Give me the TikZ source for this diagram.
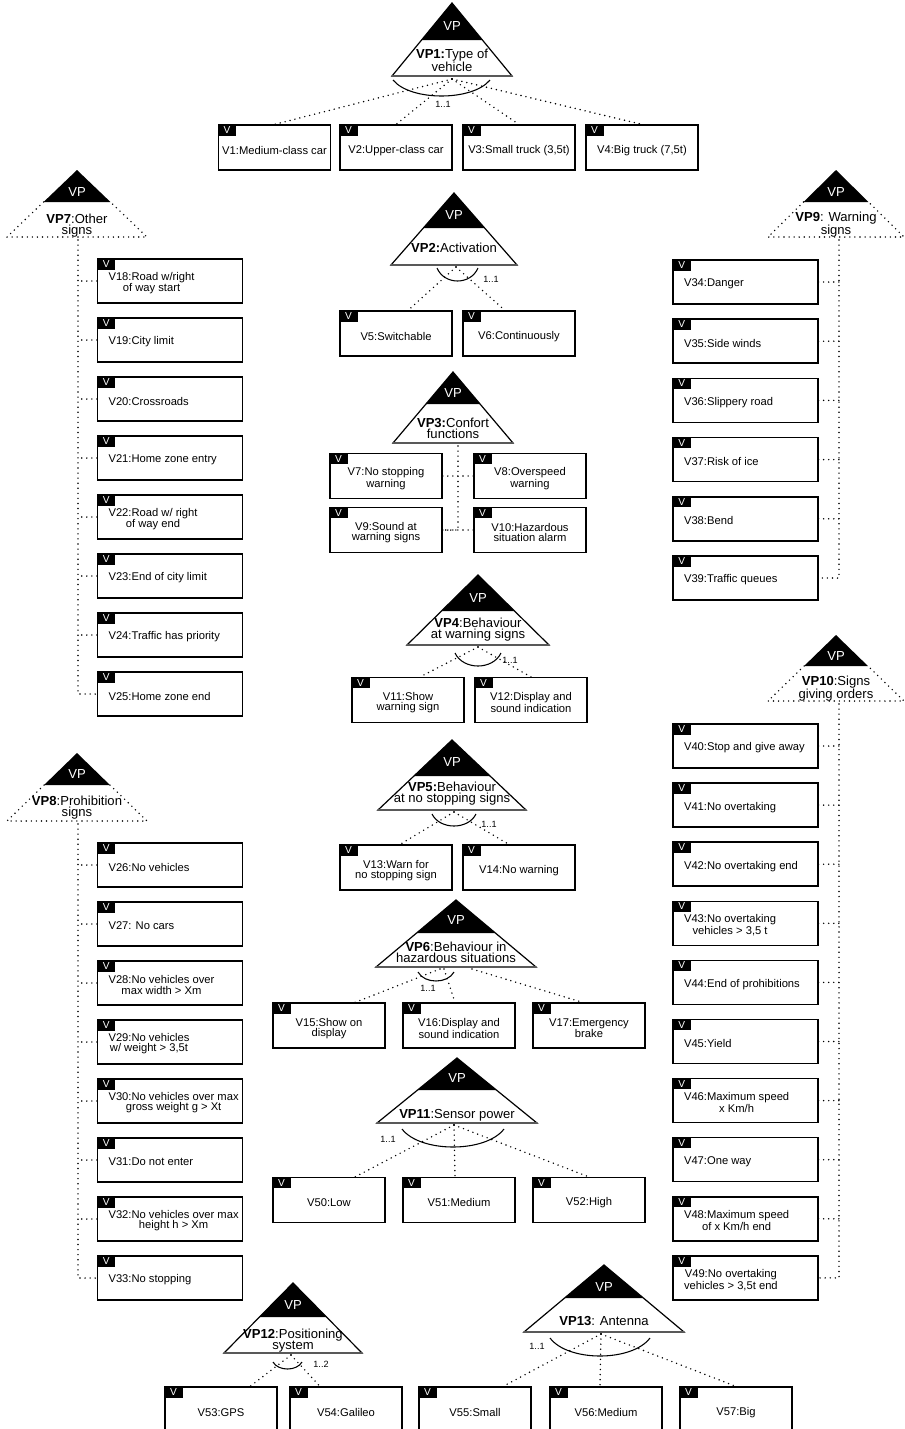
\documentclass[tikz,border=0pt]{standalone}
\usepackage{fontspec}
\setmainfont{Liberation Sans}
\tikzset{
  vbox/.style={draw=black, line width=1.1pt, minimum width=84pt, minimum height=33.5pt, inner sep=0pt},
  sbox/.style={vbox, minimum width=108.5pt, minimum height=33pt},
  vtag/.style={fill=black, text=white, anchor=north west, minimum width=13.5pt, minimum height=8.3pt, inner sep=0pt, font=\fontsize{7.6}{7.6}\selectfont},
  vtxt/.style={align=center, inner sep=0pt, font=\fontsize{8.4}{7.6}\selectfont},
  vplab/.style={align=center, inner sep=0pt, font=\fontsize{9.8}{8.4}\selectfont},
  vphead/.style={text=white, inner sep=0pt, font=\fontsize{9.8}{9.8}\selectfont},
  dots/.style={line width=1.2pt, line cap=round, dash pattern=on 0pt off 3.8pt},
  arcline/.style={line width=0.8pt},
  cardl/.style={inner sep=0pt, font=\fontsize{6.8}{6.8}\selectfont},
}
% centred box: name, cx, cy, text
\newcommand\vbc[4]{%
  \node[vbox] (#1) at (#2,#3) {};
  \node[vtag] (#1g) at (#1.north west) {V};
  \node[vtxt] (#1t) at ([yshift=-2pt]#1.center) {#4};}
% side box: name, cx, cy, text
\newcommand\vbs[4]{%
  \node[sbox] (#1) at (#2,#3) {};
  \node[vtag] (#1g) at (#1.north west) {V};
  \node[vtxt,anchor=west] (#1t) at ([xshift=8.5pt,yshift=-1.5pt]#1.west) {#4};}
% solid VP triangle: name, cx, apex y, base y, half width, black height, head y, label y, label
\newcommand\vptri[9]{%
  \pgfmathsetmacro\vphb{#5*#6/(#4-#3)}%
  \coordinate (#1) at (#2,#3);
  \coordinate (#1L) at (#2-#5,#4);
  \coordinate (#1R) at (#2+#5,#4);
  \fill[black] (#1) -- (#2-\vphb,#3+#6) -- (#2+\vphb,#3+#6) -- cycle;
  \draw[line width=0.9pt, line join=miter] (#1) -- (#1L) -- (#1R) -- cycle;
  \draw[line width=1.5pt, black!65] (#1L) -- (#1R);
  \node[vphead] (#1h) at (#2,#7) {VP};
  \node[vplab] (#1l) at (#2,#8) {#9};}
% dotted VP triangle
\newcommand\vpdot[9]{%
  \pgfmathsetmacro\vphb{#5*#6/(#4-#3)}%
  \coordinate (#1) at (#2,#3);
  \coordinate (#1L) at (#2-#5,#4);
  \coordinate (#1R) at (#2+#5,#4);
  \coordinate (#1a) at (#2-\vphb,#3+#6);
  \coordinate (#1b) at (#2+\vphb,#3+#6);
  \fill[black] (#1) -- (#1a) -- (#1b) -- cycle;
  \draw[dots] (#1a) -- (#1L) -- (#1R) -- (#1b);
  \node[vphead] (#1h) at (#2,#7) {VP};
  \node[vplab] (#1l) at (#2,#8) {#9};}
% cardinality arc: x1, x2, y, lowest y
\newcommand\cardarc[4]{%
  \pgfmathsetmacro\cah{#3+(#4-#3)*4/3}%
  \draw[arcline] (#1,#3) .. controls ({#1+(#2-#1)*0.18},\cah) and ({#2-(#2-#1)*0.18},\cah) .. (#2,#3);}
\begin{document}
\begin{tikzpicture}[x=0.75pt,y=-0.75pt]
\useasboundingbox (0,0) rectangle (904,1429);
\fill[white] (0,0) rectangle (904,1429);

% ---------- VP1 ----------
\vptri{vp1}{452}{3}{76}{60}{37}{26}{60.5}{\textbf{VP1:}Type of\\vehicle}
\cardarc{393}{490}{80}{96}
\node[cardl] (c1) at (443,104) {1..1};
\vbc{v1}{274.5}{147.5}{V1:Medium-class car}
\vbc{v2}{396}{147.5}{V2:Upper-class car}
\vbc{v3}{519}{147.5}{V3:Small truck (3,5t)}
\vbc{v4}{642}{147.5}{V4:Big truck (7,5t)}
\coordinate (vp1s) at (452,79);
\foreach \n in {v1,v2,v3,v4} \draw[dots] (vp1s) -- (\n.north);

% ---------- VP2 ----------
\vptri{vp2}{454}{193}{265}{63}{35}{215}{248}{\textbf{VP2:}Activation}
\cardarc{437}{478}{268}{281}
\node[cardl] (c2) at (491,279) {1..1};
\vbc{v5}{396}{333.5}{V5:Switchable}
\vbc{v6}{519}{333.5}{V6:Continuously}
\coordinate (vp2s) at (456,267);
\draw[dots] (vp2s) -- ([xshift=9pt]v5.north);
\draw[dots] (vp2s) -- ([xshift=-10.5pt]v6.north);

% ---------- VP3 ----------
\vptri{vp3}{453}{372}{443}{60}{32}{393}{428}{\textbf{VP3:}Confort\\functions}
\vbc{v7}{386}{476}{V7:No stopping\\warning}
\vbc{v8}{530}{476}{V8:Overspeed\\warning}
\vbc{v9}{386}{530}{V9:Sound at\\warning signs}
\vbc{v10}{530}{530}{V10:Hazardous\\situation alarm}
\coordinate (vp3s) at (458,446);
\draw[dots] (vp3s) |- (v9.east);
\draw[dots] (v7.east) -- (v8.west);
\draw[dots] (v9.east) -- (v10.west);

% ---------- VP4 ----------
\vptri{vp4}{478}{575}{645}{71}{36}{598}{630}{\textbf{VP4}:Behaviour\\at warning signs}
\cardarc{455}{501}{653}{666}
\node[cardl] (c4) at (510,660) {1..1};
\vbc{v11}{408}{700}{V11:Show\\warning sign}
\vbc{v12}{531}{700}{V12:Display and\\sound indication}
\coordinate (vp4s) at (478,647);
\draw[dots] (vp4s) -- ([xshift=9pt]v11.north);
\draw[dots] (vp4s) -- (v12.north);

% ---------- VP5 ----------
\vptri{vp5}{452}{740}{810}{74}{36}{762}{794}{\textbf{VP5:}Behaviour\\at no stopping signs}
\cardarc{432}{476}{814}{826}
\node[cardl] (c5) at (489,824) {1..1};
\vbc{v13}{396}{867.5}{V13:Warn for\\no stopping sign}
\vbc{v14}{519}{867.5}{V14:No warning}
\coordinate (vp5s) at (454,812);
\draw[dots] (vp5s) -- ([xshift=3pt]v13.north);
\draw[dots] (vp5s) -- ([xshift=-7.5pt]v14.north);

% ---------- VP6 ----------
\vptri{vp6}{456}{900}{967}{80}{33}{920}{952.5}{\textbf{VP6}:Behaviour in\\hazardous situations}
\cardarc{418}{454}{972}{981}
\node[cardl] (c6) at (428,988) {1..1};
\vbc{v15}{329}{1025.5}{V15:Show on\\display}
\vbc{v16}{459}{1025.5}{V16:Display and\\sound indication}
\vbc{v17}{589}{1025.5}{V17:Emergency\\brake}
\coordinate (vp6a) at (440,969);
\coordinate (vp6b) at (444,969);
\coordinate (vp6c) at (472,969);
\draw[dots] (vp6a) -- ([xshift=19.5pt]v15.north);
\draw[dots] (vp6b) -- ([xshift=-3pt]v16.north);
\draw[dots] (vp6c) -- ([xshift=-4.5pt]v17.north);

% ---------- VP11 ----------
\vptri{vp11}{457}{1058}{1123}{80}{32}{1078}{1115}{\textbf{VP11}:Sensor power}
\cardarc{402}{504}{1129}{1147}
\node[cardl] (c11) at (388,1139) {1..1};
\vbc{v50}{329}{1200}{V50:Low}
\vbc{v51}{459}{1200}{V51:Medium}
\vbc{v52}{589}{1200}{V52:High}
\coordinate (vp11s) at (454,1125);
\draw[dots] (vp11s) -- ([xshift=19.5pt]v50.north);
\draw[dots] (vp11s) -- ([xshift=-3pt]v51.north);
\draw[dots] (vp11s) -- (v52.north);

% ---------- VP12 ----------
\vptri{vp12}{293}{1283}{1353}{69}{34}{1305}{1341}{\textbf{VP12}:Positioning\\system}
\cardarc{273}{302}{1362}{1369}
\node[cardl] (c12) at (321,1364) {1..2};
\vbc{v53}{221}{1409.5}{V53:GPS}
\vbc{v54}{346}{1409.5}{V54:Galileo}
\coordinate (vp12s) at (291,1355);
\draw[dots] (vp12s) -- ([xshift=21.75pt]v53.north);
\draw[dots] (vp12s) -- ([xshift=-19.5pt]v54.north);

% ---------- VP13 ----------
\vptri{vp13}{604}{1265}{1332}{80}{33}{1287}{1321}{\textbf{VP13}: Antenna}
\cardarc{550}{650}{1338}{1356}
\node[cardl] (c13) at (537,1346) {1..1};
\vbc{v55}{475}{1409.5}{V55:Small}
\vbc{v56}{606}{1409.5}{V56:Medium}
\vbc{v57}{736}{1409.5}{V57:Big}
\coordinate (vp13s) at (601,1334);
\draw[dots] (vp13s) -- ([xshift=21pt]v55.north);
\draw[dots] (vp13s) -- ([xshift=-4.5pt]v56.north);
\draw[dots] (vp13s) -- (v57.north);

% ---------- VP7 ----------
\vpdot{vp7}{77}{170}{237}{70}{32}{192}{225.5}{\textbf{VP7}:Other\\signs}
\vbs{v18}{170}{281}{V18:Road w/right\\of way start}
\vbs{v19}{170}{340}{V19:City limit}
\vbs{v20}{170}{399}{V20:Crossroads}
\vbs{v21}{170}{458}{V21:Home zone entry}
\vbs{v22}{170}{517}{V22:Road w/ right\\of way end}
\vbs{v23}{170}{576}{V23:End of city limit}
\vbs{v24}{170}{635}{V24:Traffic has priority}
\vbs{v25}{170}{694}{V25:Home zone end}
\coordinate (vp7s) at (78,240);
\draw[dots] (vp7s) |- (v25.west);
\foreach \n in {v18,v19,v20,v21,v22,v23,v24} \draw[dots] (\n.west) -- (\n.west -| vp7s);

% ---------- VP8 ----------
\vpdot{vp8}{77}{753}{821}{70}{32}{774}{807.5}{\textbf{VP8}:Prohibition\\signs}
\vbs{v26}{170}{865}{V26:No vehicles}
\vbs{v27}{170}{924}{V27: No cars}
\vbs{v28}{170}{983}{V28:No vehicles over\\max width > Xm}
\vbs{v29}{170}{1042}{V29:No vehicles\\w/ weight > 3,5t}
\vbs{v30}{170}{1101}{V30:No vehicles over max\\gross weight g > Xt}
\vbs{v31}{170}{1160}{V31:Do not enter}
\vbs{v32}{170}{1219}{V32:No vehicles over max\\height h > Xm}
\vbs{v33}{170}{1278}{V33:No stopping}
\coordinate (vp8s) at (78,824);
\draw[dots] (vp8s) |- (v33.west);
\foreach \n in {v26,v27,v28,v29,v30,v31,v32} \draw[dots] (\n.west) -- (\n.west -| vp8s);

% ---------- VP9 ----------
\vpdot{vp9}{836}{170}{237}{68}{32}{192}{224.5}{\textbf{VP9}: Warning\\signs}
\vbs{v34}{745.5}{282}{V34:Danger}
\vbs{v35}{745.5}{341.2}{V35:Side winds}
\vbs{v36}{745.5}{400.4}{V36:Slippery road}
\vbs{v37}{745.5}{459.6}{V37:Risk of ice}
\vbs{v38}{745.5}{518.8}{V38:Bend}
\vbs{v39}{745.5}{578}{V39:Traffic queues}
\coordinate (vp9s) at (839,240);
\draw[dots] (vp9s) |- (v39.east);
\foreach \n in {v34,v35,v36,v37,v38} \draw[dots] (\n.east) -- (\n.east -| vp9s);

% ---------- VP10 ----------
\vpdot{vp10}{836}{635}{701}{68}{31}{656}{688.5}{\textbf{VP10}:Signs\\giving orders}
\vbs{v40}{745.5}{746}{V40:Stop and give away}
\vbs{v41}{745.5}{805.1}{V41:No overtaking}
\vbs{v42}{745.5}{864.2}{V42:No overtaking end}
\vbs{v43}{745.5}{923.3}{V43:No overtaking\\vehicles > 3,5 t}
\vbs{v44}{745.5}{982.4}{V44:End of prohibitions}
\vbs{v45}{745.5}{1041.5}{V45:Yield}
\vbs{v46}{745.5}{1100.6}{V46:Maximum speed\\x Km/h}
\vbs{v47}{745.5}{1159.7}{V47:One way}
\vbs{v48}{745.5}{1218.8}{V48:Maximum speed\\of x Km/h end}
\vbs{v49}{745.5}{1277.9}{V49:No overtaking\\vehicles > 3,5t end}
\coordinate (vp10s) at (839,704);
\draw[dots] (vp10s) |- (v49.east);
\foreach \n in {v40,v41,v42,v43,v44,v45,v46,v47,v48} \draw[dots] (\n.east) -- (\n.east -| vp10s);
\end{tikzpicture}
\end{document}
